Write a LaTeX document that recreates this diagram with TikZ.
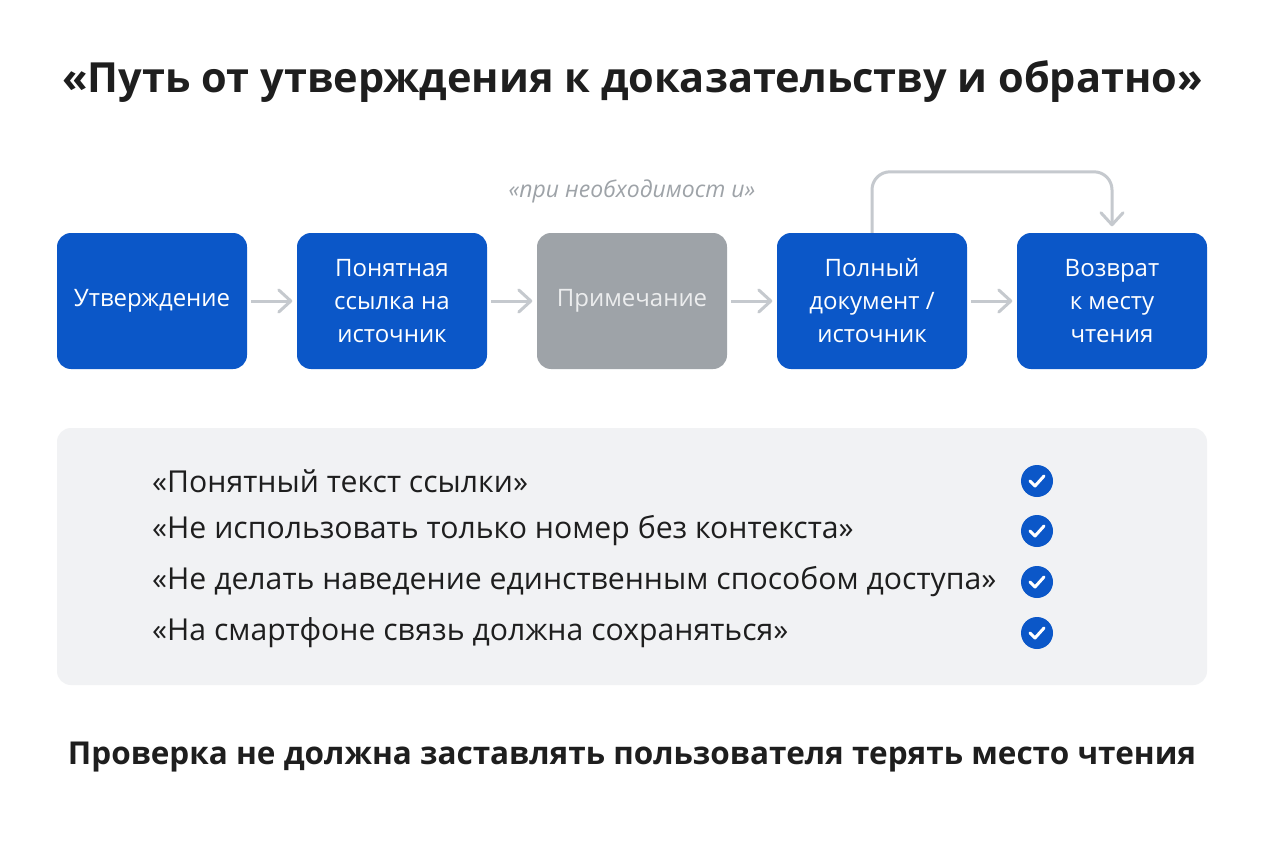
\documentclass[tikz,border=0pt]{standalone}
\usepackage{fontspec}
\setmainfont{Open Sans}
\usetikzlibrary{arrows.meta}
\definecolor{bl}{HTML}{0B57C8}
\definecolor{gr}{HTML}{9EA3A8}
\definecolor{ar}{HTML}{C5C9CE}
\definecolor{pn}{HTML}{F1F2F4}
\definecolor{tx}{HTML}{1E1E1E}
\begin{document}
\begin{tikzpicture}[x=1pt,y=-1pt,
 box/.style={fill=bl,rounded corners=14pt,minimum width=190pt,minimum height=136pt,align=center,text=white,font=\fontsize{24}{33}\selectfont,inner sep=0pt},
 arr/.style={draw=ar,line width=3pt},
 item/.style={anchor=west,text=tx,font=\fontsize{30.2}{32}\selectfont,inner sep=0pt},
 chk/.style={circle,fill=bl,minimum size=32pt,inner sep=0pt}]
\useasboundingbox (0,0) rectangle (1264,848);
\fill[white] (0,0) rectangle (1264,848);
\node[anchor=west,text=tx,font=\bfseries\fontsize{41.5}{48}\selectfont,inner sep=0pt] (title) at (62,82) {«Путь от утверждения к доказательству и обратно»};
\node[text=gr,font=\itshape\fontsize{23}{26}\selectfont] (note) at (632,191) {«при необходимост и»};
\node[box] (b1) at (152,301) {Утверждение};
\node[box] (b2) at (392,301) {Понятная\\ссылка на\\источник};
\node[box,fill=gr,text=white!80!gr] (b3) at (632,301) {Примечание};
\node[box] (b4) at (872,301) {Полный\\документ /\\источник};
\node[box] (b5) at (1112,301) {Возврат\\к месту\\чтения};
\foreach \a/\b in {b1/b2,b2/b3,b3/b4,b4/b5}{
 \coordinate (s) at ([xshift=4pt]\a.east);
 \coordinate (e) at ([xshift=-6pt]\b.west);
 \draw[arr] (s) -- (e);
 \draw[arr,line cap=round,line join=round] ([xshift=-12pt,yshift=-11pt]e) -- (e) -- ([xshift=-12pt,yshift=11pt]e);
}
\coordinate (t5) at ([yshift=8pt]b5.north);
\draw[arr,rounded corners=18pt] (b4.north) -- ++(0,-61) -| (t5);
\draw[arr,line cap=round,line join=round] ([xshift=-11pt,yshift=12pt]t5) -- (t5) -- ([xshift=11pt,yshift=12pt]t5);
\fill[pn,rounded corners=14pt] (57,428) rectangle (1207,685);
\foreach \y/\t [count=\i] in {481/{«Понятный текст ссылки»},531/{«Не использовать только номер без контекста»},582/{«Не делать наведение единственным способом доступа»},633/{«На смартфоне связь должна сохраняться»}}{
 \node[item] (i\i) at (152,\y) {\t};
 \node[chk] (c\i) at (1037,\y) {};
 \draw[white,line width=3pt,line cap=round,line join=round] ([xshift=-7pt]c\i.center) -- ([xshift=-2pt,yshift=-5pt]c\i.center) -- ([xshift=7pt,yshift=5pt]c\i.center);
}
\node[text=tx,font=\bfseries\fontsize{31.5}{36}\selectfont,inner sep=0pt] (foot) at (632,757) {Проверка не должна заставлять пользователя терять место чтения};
\end{tikzpicture}
\end{document}
